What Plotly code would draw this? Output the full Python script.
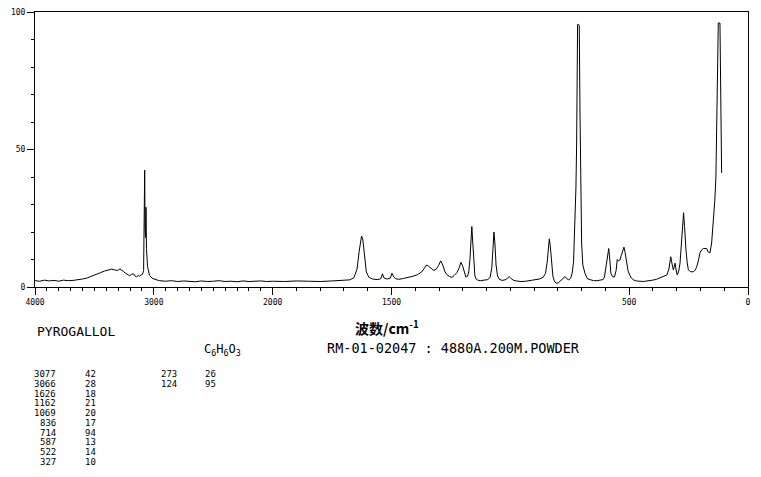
import plotly.graph_objects as go

# ---------------- data ----------------
wavenumber = [
    4000, 3960, 3920, 3880, 3840, 3800, 3760, 3720, 3680, 3640,
    3600, 3560, 3520, 3490, 3450, 3415, 3380, 3356, 3330, 3305,
    3285, 3272, 3255, 3238, 3220, 3204, 3188, 3171, 3158, 3145,
    3132, 3120, 3108, 3095, 3086, 3080, 3077, 3074, 3070, 3066,
    3062, 3053, 3044, 3036, 3015, 2994, 2970, 2950,
    2900, 2850, 2800, 2750, 2700, 2650, 2600, 2550, 2500, 2450,
    2400, 2350, 2300, 2250, 2200, 2150, 2100, 2050, 2000, 1950,
    1900, 1850, 1800, 1750, 1700,
    1675, 1658, 1645, 1636, 1630, 1626, 1621, 1614, 1606, 1595,
    1580, 1560, 1545, 1538, 1532, 1520, 1505, 1498, 1490, 1482,
    1470, 1450, 1430, 1410, 1390, 1373, 1362, 1352, 1345, 1339,
    1330, 1322, 1312, 1302, 1293, 1284, 1275, 1267, 1256, 1246,
    1236, 1225, 1215, 1208, 1200, 1193, 1187, 1180, 1175, 1170,
    1166, 1162, 1158, 1154, 1149, 1143, 1137,
    1125, 1110, 1095, 1085, 1078, 1073, 1069, 1065, 1060, 1054,
    1046, 1035, 1022, 1012, 1005, 998, 988, 975, 955, 935,
    915, 895, 878, 862, 852, 845, 840, 836, 832, 827,
    821, 815, 808, 798, 788, 778, 770, 762, 754, 746,
    740,
    734, 728, 724, 721, 717, 713, 710, 707, 704, 700,
    695, 686, 676, 665, 650, 635, 620, 610, 604, 597,
    590, 586, 582, 577, 570, 562, 555, 550, 545, 539,
    533, 527, 522, 517, 512, 505, 497, 490, 482, 470,
    455, 440, 425, 410, 400, 385, 370, 355, 341, 333,
    328, 325, 321, 317, 314, 310, 307, 303, 298, 292,
    286, 280, 275, 271, 267, 264, 261, 256, 251, 242,
    230, 222, 216, 209, 202, 195, 188, 181, 174, 168,
    160, 153, 146, 140, 135, 129, 125, 118, 114, 111,
]
intensity = [
    2.3, 2.1, 2.5, 2.2, 2.4, 2.1, 2.5, 2.3, 2.4, 2.6,
    2.9, 3.3, 3.9, 4.6, 5.2, 5.8, 6.1, 6.5, 6.2, 6.0,
    6.6, 6.3, 5.6, 5.0, 4.6, 4.1, 4.6, 4.8, 4.0, 3.7,
    4.2, 3.9, 4.4, 4.6, 6.0, 24, 42.5, 22, 18, 29,
    14, 7.5, 5.0, 4.2, 3.2, 2.8, 2.5, 2.3,
    2.1, 2.3, 2.0, 2.2, 2.1, 1.9, 2.2, 2.0, 2.1, 2.3,
    2.0, 2.1, 1.9, 2.2, 2.0, 2.1, 2.2, 2.0, 2.1, 2.0,
    2.2, 2.1, 2.0, 2.2, 2.3,
    2.6, 3.4, 6.5, 13, 17, 18.5, 17.5, 11, 5.5, 3.5,
    2.9, 2.7, 3.0, 4.8, 3.3, 2.9, 3.2, 5.0, 3.6, 3.0,
    2.8, 3.1, 3.4, 3.9, 4.5, 5.5, 6.8, 8.0, 7.6, 7.2,
    6.4, 6.0, 6.5, 7.8, 9.5, 8.0, 5.5, 4.5, 3.8, 3.5,
    4.2, 5.2, 7.0, 9.0, 7.5, 5.0, 3.6, 3.9, 5.5, 10,
    17, 22, 16, 8, 4.0, 2.8, 2.5,
    2.3, 2.4, 2.7, 3.5, 7, 14, 20, 16, 8, 4,
    2.8, 2.4, 2.6, 3.2, 3.8, 3.2, 2.5, 2.2, 2.0, 2.1,
    2.3, 2.5, 2.9, 3.5, 5.0, 9, 15, 17.5, 15, 9,
    4.0, 2.2, 1.4, 1.5, 2.2, 3.0, 3.8, 3.0, 2.6, 3.2,
    5.0,
    9, 22, 36, 52, 95.5, 95.5, 95, 64, 35, 16,
    8, 5, 3.0, 2.6, 2.3, 2.3, 2.5, 2.7, 3.6, 8.5,
    12.5, 14, 10.5, 5, 3.8, 3.6, 6, 10, 9.5, 9.8,
    11.5, 13.5, 14.5, 12.5, 9, 6, 4.2, 3.2, 2.6, 2.2,
    2.1, 2.0, 2.2, 2.3, 2.5, 2.8, 3.3, 3.8, 4.4, 6.5,
    9.5, 11, 9, 6.5, 6.2, 7.5, 8.7, 6.5, 4.4, 5.5,
    8.7, 16, 24, 27, 22, 16, 13.5, 9, 6.2, 5.6,
    5.5, 6.2, 7.3, 9.5, 12.4, 13.5, 14, 14, 14, 12.8,
    12.4, 16, 23, 31, 40, 70, 96, 96, 47, 41.5,
]
assert len(wavenumber) == len(intensity)

x_tick_values = [4000, 3000, 2000, 1500, 500, 0]
x_tick_labels = ["4000", "3000", "2000", "1500", "500", "0"]
y_tick_values = [0, 50, 100]
y_tick_labels = ["0", "50", "100"]

peak_wavenumbers_1 = ["3077", "3066", "1626", "1162", "1069", "836", "714", "587", "522", "327"]
peak_intensities_1 = ["42", "28", "18", "21", "20", "17", "94", "13", "14", "10"]
peak_wavenumbers_2 = ["273", "124"]
peak_intensities_2 = ["26", "95"]

compound_name = "PYROGALLOL"
formula = "C<sub>6</sub>H<sub>6</sub>O<sub>3</sub>"
x_title = "波数/cm<sup>-1</sup>"
sample_info = "RM-01-02047 : 4880A.200M.POWDER"


# axis is compressed by 2 above 2000 cm-1
def to_axis(w):
    return w if w <= 2000 else 2000 + (w - 2000) / 2.0


# ---------------- layout geometry ----------------
W, H = 761, 477
L, R, T, B = 35, 13, 12, 190
PW, PH = W - L - R, H - T - B


def px(x):
    return (x - L) / PW


def py(y):
    return (H - B - y) / PH


MONO = "DejaVu Sans Mono"

fig = go.Figure()
fig.add_trace(go.Scatter(
    x=[to_axis(w) for w in wavenumber],
    y=intensity,
    mode="lines",
    line=dict(color="black", width=1),
    hoverinfo="skip",
))

minor_x = [to_axis(w) for w in range(0, 4001, 100)]

fig.update_layout(
    width=W, height=H,
    margin=dict(l=L, r=R, t=T, b=B, pad=0, autoexpand=False),
    paper_bgcolor="white", plot_bgcolor="white",
    showlegend=False, hovermode=False,
    xaxis=dict(
        range=[to_axis(4000), to_axis(0)],
        automargin=False,
        showgrid=False, zeroline=False,
        showline=True, mirror=True, linecolor="black", linewidth=1,
        ticks="outside", ticklen=7, tickwidth=1, tickcolor="black",
        tickmode="array",
        tickvals=[to_axis(v) for v in x_tick_values],
        ticktext=x_tick_labels,
        tickfont=dict(family=MONO, size=8, color="black"),
        minor=dict(tickmode="array", tickvals=minor_x, ticks="outside",
                   ticklen=3, tickwidth=1, tickcolor="black"),
    ),
    yaxis=dict(
        range=[0, 100],
        automargin=False,
        showgrid=False, zeroline=False,
        showline=True, mirror=True, linecolor="black", linewidth=1,
        ticks="outside", ticklen=7, tickwidth=1, tickcolor="black",
        tickmode="array", tickvals=y_tick_values, ticktext=y_tick_labels,
        tickfont=dict(family=MONO, size=8, color="black"),
        minor=dict(dtick=10, ticks="outside", ticklen=3, tickwidth=1,
                   tickcolor="black"),
    ),
)

ann = []


def text(x, y, s, size, xanchor="left", family=MONO):
    ann.append(dict(x=px(x), y=py(y), xref="paper", yref="paper",
                    text=s, showarrow=False, xanchor=xanchor, yanchor="middle",
                    font=dict(family=family, size=size, color="black")))


text(35, 331, compound_name, 13)
text(202, 350, formula, 12)
text(353, 327, "<b>" + x_title + "</b>", 14, family="Noto Sans CJK SC")
text(325, 348, sample_info, 13.5)

for i, (w, v) in enumerate(zip(peak_wavenumbers_1, peak_intensities_1)):
    yy = 374 + 9.75 * i
    text(58, yy, w, 9, xanchor="right")
    text(83, yy, v, 9)
for i, (w, v) in enumerate(zip(peak_wavenumbers_2, peak_intensities_2)):
    yy = 374 + 9.75 * i
    text(179, yy, w, 9, xanchor="right")
    text(203, yy, v, 9)

fig.update_layout(annotations=ann)
fig.write_html(
    "out.html",
    config={"displayModeBar": False, "staticPlot": True},
    post_script="document.body.style.margin='0px';document.body.style.overflow='hidden';",
)
